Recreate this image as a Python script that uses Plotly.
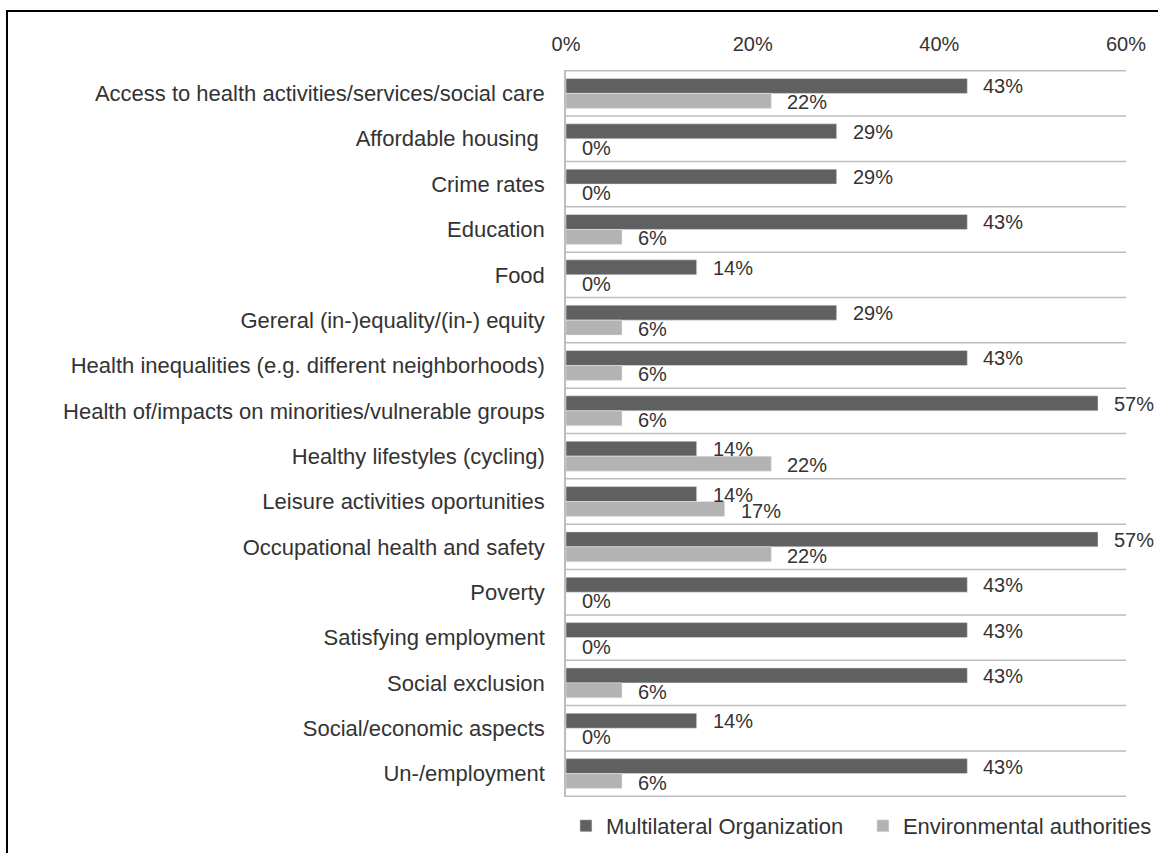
import plotly.graph_objects as go

categories = [
    "Access to health activities/services/social care",
    "Affordable housing ",
    "Crime rates",
    "Education",
    "Food",
    "Gereral (in-)equality/(in-) equity",
    "Health inequalities (e.g. different neighborhoods)",
    "Health of/impacts on minorities/vulnerable groups",
    "Healthy lifestyles (cycling)",
    "Leisure activities oportunities",
    "Occupational health and safety",
    "Poverty",
    "Satisfying employment",
    "Social exclusion",
    "Social/economic aspects",
    "Un-/employment",
]
multilateral = [0.43, 0.29, 0.29, 0.43, 0.14, 0.29, 0.43, 0.57, 0.14, 0.14, 0.57, 0.43, 0.43, 0.43, 0.14, 0.43]
environmental = [0.22, 0.00, 0.00, 0.06, 0.00, 0.06, 0.06, 0.06, 0.22, 0.17, 0.22, 0.00, 0.00, 0.06, 0.00, 0.06]
tick_values = [0, 0.2, 0.4, 0.6]
tick_labels = ["0%", "20%", "40%", "60%"]

W, H = 1158, 853
ML, MR, MT, MB = 566, 32, 70, 56
FONT = "Liberation Sans, Arial, sans-serif"
TEXT = "#333333"
DARK = "#606060"
LIGHT = "#b3b3b3"
GRID = "#bdbdbd"

fig = go.Figure()
fig.add_trace(go.Bar(y=categories, x=multilateral, orientation="h",
                     name="Multilateral Organization", marker_color=DARK))
fig.add_trace(go.Bar(y=categories, x=environmental, orientation="h",
                     name="Environmental authorities", marker_color=LIGHT))

# value labels beside each bar
annotations = []
for cat, a, b in zip(categories, multilateral, environmental):
    annotations.append(dict(x=a, y=cat, text=f"{a:.0%}", showarrow=False,
                            xanchor="left", xshift=14, yshift=7,
                            font=dict(family=FONT, size=20, color=TEXT)))
    annotations.append(dict(x=b, y=cat, text=f"{b:.0%}", showarrow=False,
                            xanchor="left", xshift=14, yshift=-9,
                            font=dict(family=FONT, size=20, color=TEXT)))

# horizontal separators between category bands
shapes = []
for k in range(len(categories) + 1):
    shapes.append(dict(type="line", xref="paper", x0=0, x1=1,
                       yref="y", y0=k - 0.5, y1=k - 0.5,
                       line=dict(color=GRID, width=1.5), layer="below"))

# outer frame
pw, ph = W - ML - MR, H - MT - MB
shapes.append(dict(type="rect", xref="paper", yref="paper",
                   x0=(7 - ML) / pw, x1=(W + 10 - ML) / pw,
                   y0=(H - MB - (H + 10)) / ph, y1=(H - MB - 11) / ph,
                   line=dict(color="black", width=2), fillcolor="rgba(0,0,0,0)"))

fig.update_layout(
    width=W, height=H,
    margin=dict(l=ML, r=MR, t=MT, b=MB, pad=0, autoexpand=False),
    paper_bgcolor="white", plot_bgcolor="white",
    barmode="group", bargap=0.34, bargroupgap=0,
    font=dict(family=FONT, size=20, color=TEXT),
    annotations=annotations, shapes=shapes,
    showlegend=True,
    legend=dict(orientation="h", x=-0.0001, xanchor="left",
                y=(H - MB - 805) / ph, yanchor="top",
                entrywidth=252, entrywidthmode="pixels",
                font=dict(family=FONT, size=22, color=TEXT),
                bgcolor="rgba(0,0,0,0)"),
)
fig.update_xaxes(side="top", range=[0, 0.6], tickvals=tick_values, ticktext=tick_labels,
                 showgrid=False, zeroline=False, showline=False, ticks="",
                 ticklabelstandoff=14, fixedrange=True)
fig.update_yaxes(autorange="reversed", showgrid=False, zeroline=False,
                 showline=True, linecolor=GRID, linewidth=1.5, ticks="",
                 ticklabelstandoff=15, tickfont=dict(family=FONT, size=22, color=TEXT),
                 fixedrange=True)

fig.write_html("out.html")
